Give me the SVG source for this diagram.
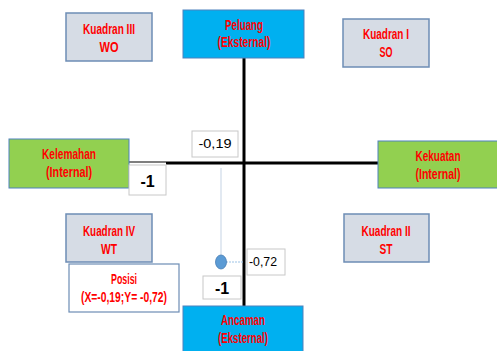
<svg xmlns="http://www.w3.org/2000/svg" width="497" height="351" viewBox="0 0 497 351">
<style>
.t{font-family:"Liberation Sans",Arial,sans-serif;font-size:14px;font-weight:bold;fill:#ff0000;text-anchor:middle}
.n{font-family:"Liberation Sans",Arial,sans-serif;fill:#000;text-anchor:middle}
.q{fill:#d6dce5;stroke:#6d8db5;stroke-width:1.5}
.b{fill:#00b0f0;stroke:#4f81bd;stroke-width:1}
.g{fill:#92d050;stroke:#4f81bd;stroke-width:1}
.w{fill:#fff;stroke:#c8c8c8;stroke-width:1}
</style>
<rect width="497" height="351" fill="#fff"/>
<g id="connectors">
<line x1="244" y1="58" x2="244" y2="307" stroke="#000" stroke-width="3"/>
<line x1="129" y1="162" x2="166" y2="162" stroke="#555" stroke-width="1.5"/>
<line x1="166" y1="163" x2="379" y2="163" stroke="#000" stroke-width="3"/>
<line x1="221" y1="168" x2="221" y2="258" stroke="#c5d3e4" stroke-width="1"/>
<line x1="226" y1="262" x2="243" y2="262" stroke="#9dc3e6" stroke-width="1" stroke-dasharray="2,1"/>
</g>
<g id="kuadran3"><rect class="q" x="66" y="13" width="86" height="48"/><text class="t" x="109" y="34" textLength="52" lengthAdjust="spacingAndGlyphs">Kuadran III</text><text class="t" x="109" y="52" textLength="19" lengthAdjust="spacingAndGlyphs">WO</text></g>
<g id="peluang"><rect class="b" x="183" y="10" width="121" height="48"/><text class="t" x="244" y="30" textLength="38" lengthAdjust="spacingAndGlyphs">Peluang</text><text class="t" x="244" y="47" textLength="53" lengthAdjust="spacingAndGlyphs">(Eksternal)</text></g>
<g id="kuadran1"><rect class="q" x="343" y="19" width="86" height="48"/><text class="t" x="386" y="39" textLength="46" lengthAdjust="spacingAndGlyphs">Kuadran I</text><text class="t" x="386" y="57" textLength="13" lengthAdjust="spacingAndGlyphs">SO</text></g>
<g id="kelemahan"><rect class="g" x="9" y="139" width="120" height="49"/><text class="t" x="69" y="159" textLength="54" lengthAdjust="spacingAndGlyphs">Kelemahan</text><text class="t" x="69" y="177" textLength="46" lengthAdjust="spacingAndGlyphs">(Internal)</text></g>
<g id="kekuatan"><rect class="g" x="378" y="141" width="122" height="47"/><text class="t" x="438" y="161" textLength="45" lengthAdjust="spacingAndGlyphs">Kekuatan</text><text class="t" x="438" y="179" textLength="45" lengthAdjust="spacingAndGlyphs">(Internal)</text></g>
<g id="minus1-x"><rect class="w" x="129" y="165" width="37" height="30"/><text class="n" x="147.5" y="187" font-size="16" font-weight="bold">-1</text></g>
<g id="x-value"><rect class="w" x="192" y="131" width="46" height="26"/><text class="n" x="215" y="148" font-size="12" textLength="33" lengthAdjust="spacingAndGlyphs">-0,19</text></g>
<g id="kuadran4"><rect class="q" x="66" y="214" width="86" height="48"/><text class="t" x="109" y="236" textLength="52" lengthAdjust="spacingAndGlyphs">Kuadran IV</text><text class="t" x="109" y="254" textLength="16" lengthAdjust="spacingAndGlyphs">WT</text></g>
<g id="kuadran2"><rect class="q" x="344" y="214" width="85" height="48"/><text class="t" x="386" y="236" textLength="49" lengthAdjust="spacingAndGlyphs">Kuadran II</text><text class="t" x="386" y="254" textLength="13" lengthAdjust="spacingAndGlyphs">ST</text></g>
<g id="posisi"><rect x="69" y="264" width="110" height="48" fill="#fff" stroke="#6d8db5" stroke-width="1.2"/><text class="t" x="124" y="284" textLength="26" lengthAdjust="spacingAndGlyphs">Posisi</text><text class="t" x="124" y="302" textLength="86" lengthAdjust="spacingAndGlyphs">(X=-0,19;Y= -0,72)</text></g>
<g id="point"><ellipse cx="221" cy="262" rx="5.5" ry="7" fill="#5b9bd5" stroke="#4a7fb5" stroke-width="0.8"/></g>
<g id="y-value"><rect class="w" x="247" y="249" width="38" height="26"/><text class="n" x="263" y="266" font-size="12" textLength="28" lengthAdjust="spacingAndGlyphs">-0,72</text></g>
<g id="minus1-y"><rect class="w" x="203" y="276" width="38" height="23"/><text class="n" x="222" y="294" font-size="16" font-weight="bold">-1</text></g>
<g id="ancaman"><rect class="b" x="183" y="306" width="120" height="50"/><text class="t" x="243" y="325" textLength="44" lengthAdjust="spacingAndGlyphs">Ancaman</text><text class="t" x="243" y="343" textLength="50" lengthAdjust="spacingAndGlyphs">(Eksternal)</text></g>
</svg>
